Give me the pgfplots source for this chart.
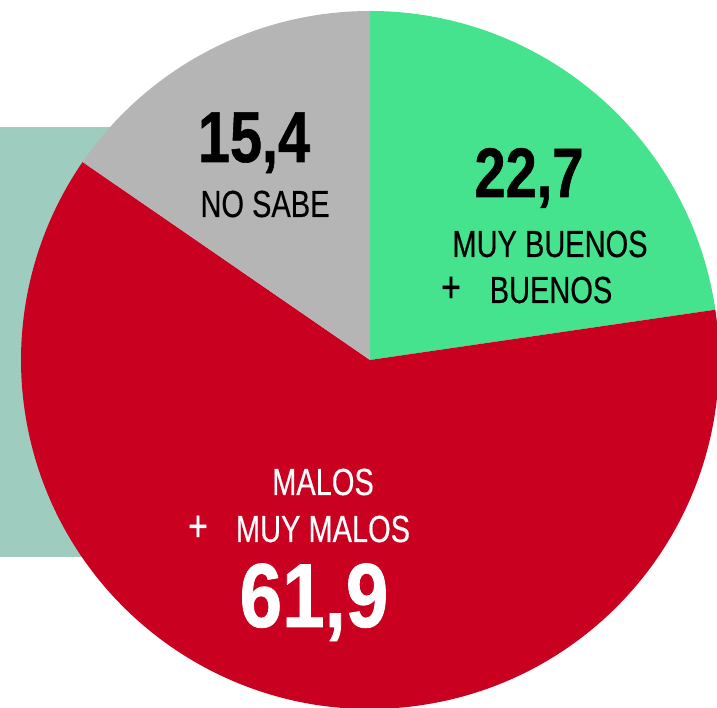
\documentclass[border=0pt]{standalone}
\usepackage{fontspec}
\setmainfont{Liberation Sans}
\newfontfamily\narrow[FakeStretch=0.77,FakeBold=0.4]{Liberation Sans}
\newfontfamily\bnarrow[FakeStretch=0.8,FakeBold=0.8]{Liberation Sans Bold}
\usepackage{pgfplots}
\usepackage{pgfplotstable}
\pgfplotsset{compat=1.18}
\definecolor{cgreen}{RGB}{69,227,142}
\definecolor{cred}{RGB}{202,0,32}
\definecolor{cgray}{RGB}{181,181,181}
\definecolor{cteal}{RGB}{158,205,192}
\pgfplotstableread{
label value
Buenos 22.7
Malos 61.9
NoSabe 15.4
}\piedata
\begin{document}%
\begin{tikzpicture}
\pgfplotstablegetelem{0}{value}\of\piedata\let\va\pgfplotsretval
\pgfplotstablegetelem{1}{value}\of\piedata\let\vb\pgfplotsretval
\pgfplotstablegetelem{2}{value}\of\piedata\let\vc\pgfplotsretval
\pgfmathsetmacro\aA{90-3.6*\va}
\pgfmathsetmacro\aB{\aA-3.6*\vb}
\pgfmathsetmacro\aC{\aB-3.6*\vc}
\useasboundingbox (0,0) rectangle (717pt,708pt);
\begin{axis}[
  at={(0,0)}, anchor=south west,
  xmin=0, xmax=717, ymin=0, ymax=708,
  width=717pt, height=708pt, scale only axis,
  hide axis, clip=true,
]
\fill[cteal] (axis cs:0,151) rectangle (axis cs:240,581);
\fill[cgreen] (axis cs:370,348) -- ++(90:349pt) arc[start angle=90, end angle=\aA, radius=349pt] -- cycle;
\fill[cred] (axis cs:370,348) -- ++(\aA:349pt) arc[start angle=\aA, end angle=\aB, radius=349pt] -- cycle;
\fill[cgray] (axis cs:370,348) -- ++(\aB:349pt) arc[start angle=\aB, end angle=\aC, radius=349pt] -- cycle;
% labels
\node[anchor=base, inner sep=0pt] at (axis cs:254,546) {\bnarrow\fontsize{72}{72}\selectfont 15,4};
\node[anchor=base, inner sep=0pt] at (axis cs:265,491) {\narrow\fontsize{37.7}{40}\selectfont NO SABE};
\node[anchor=base, inner sep=0pt] at (axis cs:529,511) {\bnarrow\fontsize{70}{70}\selectfont 22,7};
\node[anchor=base, inner sep=0pt] at (axis cs:550,451) {\narrow\fontsize{37.7}{40}\selectfont MUY BUENOS};
\node[anchor=base, inner sep=0pt] at (axis cs:451,406) {\narrow\fontsize{44}{44}\selectfont +};
\node[anchor=base, inner sep=0pt] at (axis cs:551,405) {\narrow\fontsize{37.7}{40}\selectfont BUENOS};
\node[anchor=base, inner sep=0pt, text=white] at (axis cs:323,213) {\narrow\fontsize{37.7}{40}\selectfont MALOS};
\node[anchor=base, inner sep=0pt, text=white] at (axis cs:198,167) {\narrow\fontsize{44}{44}\selectfont +};
\node[anchor=base, inner sep=0pt, text=white] at (axis cs:323,166) {\narrow\fontsize{37.7}{40}\selectfont MUY MALOS};
\node[anchor=base, inner sep=0pt, text=white] at (axis cs:314,81) {\scalebox{1.05}[1]{\bnarrow\fontsize{91}{91}\selectfont 61,9}};
\end{axis}
\end{tikzpicture}%
\end{document}
